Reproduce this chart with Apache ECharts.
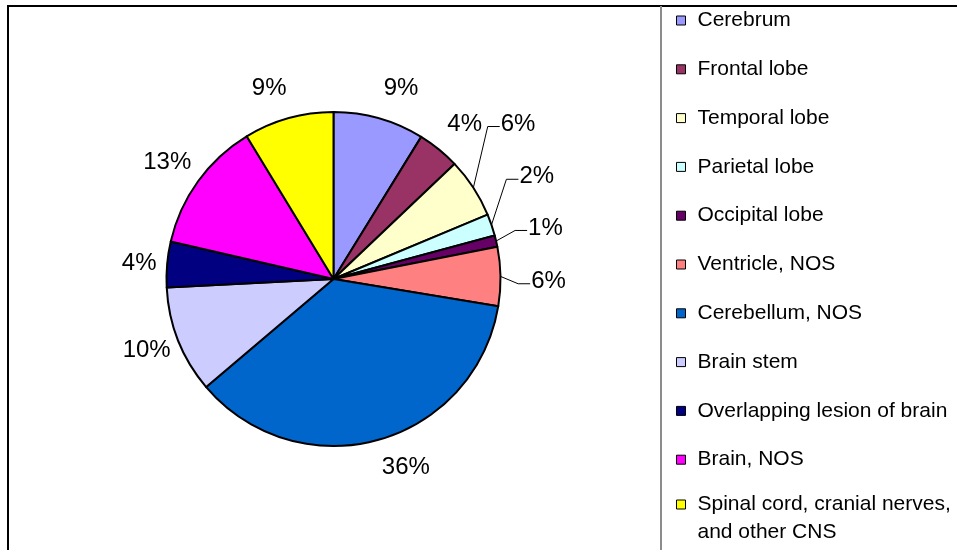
<!DOCTYPE html>
<html>
<head>
<meta charset="utf-8">
<script src="https://cdn.jsdelivr.net/npm/echarts@6/dist/echarts.min.js"></script>
<style>
    html, body {margin: 0; padding: 0; background: #fff;}
    #main {width: 957px; height: 550px;}
</style>
</head>
<body>
<div id="main"></div>
<script>
    var sites = ['Cerebrum', 'Frontal lobe', 'Temporal lobe', 'Parietal lobe', 'Occipital lobe', 'Ventricle, NOS',
        'Cerebellum, NOS', 'Brain stem', 'Overlapping lesion of brain', 'Brain, NOS',
        'Spinal cord, cranial nerves,\nand other CNS'];
    var shares = [8.8, 4.1, 5.8, 2.1, 1.1, 5.7, 36.2, 10.4, 4.4, 12.7, 8.7];
    var colours = ['#9999ff', '#993366', '#ffffcc', '#ccffff', '#660066', '#ff8080',
        '#0066cc', '#ccccff', '#000080', '#ff00ff', '#ffff00'];

    // label placement: distance of the label centre from the pie centre, turn (deg) off the slice middle
    var labelDist = [202, 203, 241, 227.5, 218, 215, 202, 200, 195, 203, 201];
    var labelTurn = [3.7, 1.2, -6.9, -7.8, -0.4, 1.5, -5.5, 0.7, -0.3, -0.8, -3.0];
    var withLine = [false, false, true, true, true, true, false, false, false, false, false];

    var CX = 333.5, CY = 279, R = 167;
    var FONT = "'Liberation Sans', Arial, sans-serif";

    var total = shares.reduce(function (a, b) { return a + b; }, 0);
    var midAngle = [];
    shares.reduce(function (acc, v) {
        midAngle.push((acc + v / 2) / total * 360);
        return acc + v;
    }, 0);

    var legendBase = {
        orient: 'vertical', left: 671, itemWidth: 9, itemHeight: 9,
        icon: 'rect', selectedMode: false,
        itemStyle: {borderColor: '#000', borderWidth: 1}
    };

    var chart = echarts.init(document.getElementById('main'));
    chart.setOption({
        animation: false,
        backgroundColor: '#fff',
        graphic: [
            {type: 'rect', shape: {x: 8, y: 6, width: 1200, height: 1000}, style: {fill: 'none', stroke: '#000', lineWidth: 2}},
            {type: 'line', shape: {x1: 661, y1: 6, x2: 661, y2: 560}, style: {stroke: '#8c8c8c', lineWidth: 2}}
        ],
        legend: [
            Object.assign({}, legendBase, {
                top: 3.5, itemGap: 24.8,
                textStyle: {fontFamily: FONT, fontSize: 21, color: '#000', lineHeight: 24, padding: [0, 0, 0, 7]},
                data: sites.slice(0, 10)
            }),
            Object.assign({}, legendBase, {
                // blank first line keeps the marker level with "Spinal cord"
                top: 458.25,
                formatter: function (name) { return '\n' + name; },
                textStyle: {fontFamily: FONT, fontSize: 21, color: '#000', lineHeight: 27.5, padding: [0, 0, 0, 7]},
                data: sites.slice(10)
            })
        ],
        series: [{
            type: 'pie',
            center: [CX, CY],
            radius: R,
            startAngle: 90,
            clockwise: true,
            avoidLabelOverlap: false,
            emphasis: {disabled: true},
            itemStyle: {borderColor: '#000', borderWidth: 2},
            label: {
                show: true, position: 'outside', fontFamily: FONT, fontSize: 24, color: '#000',
                formatter: function (p) { return Math.round(p.percent) + '%'; }
            },
            labelLine: {show: true, length: 10, length2: 10, lineStyle: {color: '#000', width: 1}},
            labelLayout: function (p) {
                var i = p.dataIndex;
                var a = (midAngle[i] + labelTurn[i]) * Math.PI / 180;
                var x = CX + labelDist[i] * Math.sin(a);
                var y = CY - labelDist[i] * Math.cos(a);
                var out = {x: x, y: y, align: 'center', verticalAlign: 'middle'};
                if (withLine[i]) {
                    var m = midAngle[i] * Math.PI / 180;
                    var left = x - p.labelRect.width / 2;
                    out.labelLinePoints = [
                        [CX + R * Math.sin(m), CY - R * Math.cos(m)],
                        [left - 13, y + 2.5],
                        [left - 1, y + 2.5]
                    ];
                }
                return out;
            },
            data: sites.map(function (name, i) {
                return {
                    name: name,
                    value: shares[i],
                    itemStyle: {color: colours[i]},
                    labelLine: {show: withLine[i]}
                };
            })
        }]
    });
</script>
</body>
</html>
